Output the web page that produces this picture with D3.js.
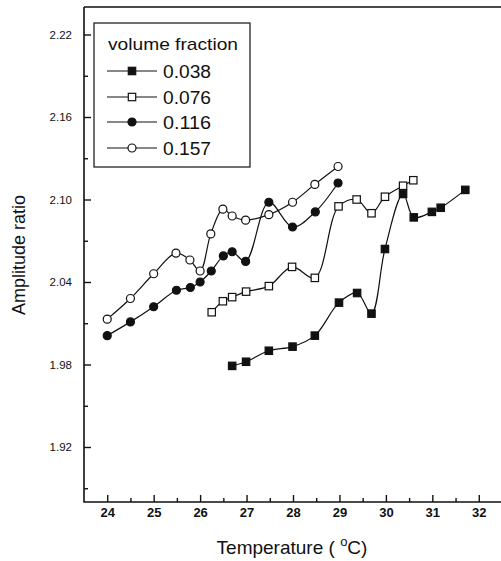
<!DOCTYPE html>
<html>
<head>
<meta charset="utf-8">
<script src="https://cdn.jsdelivr.net/npm/d3@7"></script>
<style>
  body { margin: 0; background: #fff; }
  text { font-family: "Liberation Sans", Arial, sans-serif; fill: #111; }
</style>
</head>
<body>
<div id="graphe"></div>
<script>
// données
var x038 = [26.69, 26.99, 27.48, 27.99, 28.47, 28.99, 29.38, 29.69, 29.98, 30.37, 30.6, 30.99, 31.18, 31.71];
var y038 = [1.979, 1.982, 1.990, 1.993, 2.001, 2.025, 2.032, 2.017, 2.064, 2.104, 2.087, 2.091, 2.094, 2.107];

var x076 = [26.25, 26.49, 26.69, 26.99, 27.48, 27.98, 28.47, 28.98, 29.37, 29.69, 29.98, 30.37, 30.59];
var y076 = [2.018, 2.026, 2.029, 2.033, 2.037, 2.051, 2.043, 2.095, 2.100, 2.090, 2.102, 2.110, 2.114];

var x116 = [24.0, 24.5, 25.0, 25.49, 25.79, 26.0, 26.24, 26.5, 26.69, 26.98, 27.48, 27.99, 28.48, 28.97];
var y116 = [2.001, 2.011, 2.022, 2.034, 2.036, 2.040, 2.048, 2.059, 2.062, 2.055, 2.098, 2.080, 2.091, 2.112];

var x157 = [24.0, 24.5, 25.0, 25.48, 25.78, 26.0, 26.23, 26.49, 26.69, 26.98, 27.48, 27.99, 28.47, 28.97];
var y157 = [2.013, 2.028, 2.046, 2.061, 2.056, 2.048, 2.075, 2.093, 2.088, 2.085, 2.089, 2.098, 2.111, 2.124];

var nomsSeries = ["0.038", "0.076", "0.116", "0.157"];
var ticksX = [24, 25, 26, 27, 28, 29, 30, 31, 32];
var ticksY = [1.92, 1.98, 2.04, 2.10, 2.16, 2.22];

//----------------------------------------------------------------
//  svg
//----------------------------------------------------------------
var largeurSvg = 501, hauteurSvg = 561;
var svg = d3.select("#graphe").append("svg")
    .attr("width", largeurSvg)
    .attr("height", hauteurSvg);

var x = d3.scaleLinear().domain([23.5, 32.5]).range([84, 502]);
var y = d3.scaleLinear().domain([1.88, 2.24]).range([502, 7]);

// cadre
svg.append("path")
    .attr("d", "M" + x(23.5) + "," + y(2.24) + "H" + x(32.5) + "M" + x(23.5) + "," + y(2.24) + "V" + y(1.88) + "H" + x(32.5))
    .attr("fill", "none").attr("stroke", "#111").attr("stroke-width", 1.6);

// axes (graduations vers l'intérieur)
var axeX = svg.append("g")
    .attr("transform", "translate(0," + y(1.88) + ")")
    .call(d3.axisBottom(x).tickValues(ticksX).tickSize(-7).tickPadding(6).tickFormat(d3.format("d")));
var axeXmin = svg.append("g")
    .attr("transform", "translate(0," + y(1.88) + ")")
    .call(d3.axisBottom(x).tickValues(d3.range(24.5, 32.5, 1)).tickSize(-4).tickFormat(""));

var axeY = svg.append("g")
    .attr("transform", "translate(" + x(23.5) + ",0)")
    .call(d3.axisLeft(y).tickValues(ticksY).tickSize(-7).tickPadding(12).tickFormat(d3.format(".2f")));
var axeYmin = svg.append("g")
    .attr("transform", "translate(" + x(23.5) + ",0)")
    .call(d3.axisLeft(y).tickValues([1.89, 1.95, 2.01, 2.07, 2.13, 2.19]).tickSize(-4).tickFormat(""));

[axeX, axeXmin, axeY, axeYmin].forEach(function(a) {
    a.select(".domain").remove();
    a.selectAll(".tick line").attr("stroke", "#111").attr("stroke-width", 1.4);
});
axeX.selectAll("text").attr("font-size", 13).style("font-weight", "bold").attr("fill", "#222");
axeY.selectAll("text").attr("font-size", 11.5).attr("fill", "#222");

// titres des axes
svg.append("text")
    .attr("transform", "translate(25,255) rotate(-90)")
    .attr("text-anchor", "middle")
    .attr("font-size", 18)
    .text("Amplitude ratio");

var titreX = svg.append("text")
    .attr("x", 292).attr("y", 554)
    .attr("text-anchor", "middle")
    .attr("font-size", 19);
titreX.append("tspan").text("Temperature ( ");
titreX.append("tspan").attr("dy", -8).attr("font-size", 13).text("o");
titreX.append("tspan").attr("dy", 8).text("C)");

//----------------------------------------------------------------
//  séries
//----------------------------------------------------------------
var series = [
    {nom: nomsSeries[0], xs: x038, ys: y038, forme: "carre", plein: true},
    {nom: nomsSeries[1], xs: x076, ys: y076, forme: "carre", plein: false},
    {nom: nomsSeries[2], xs: x116, ys: y116, forme: "rond", plein: true},
    {nom: nomsSeries[3], xs: x157, ys: y157, forme: "rond", plein: false}
];

var ligne = d3.line()
    .x(function(d) { return x(d[0]); })
    .y(function(d) { return y(d[1]); })
    .curve(d3.curveCatmullRom.alpha(0.5));

function dessineMarque(g, forme, plein, cx, cy) {
    if (forme == "carre") {
        g.append("rect")
            .attr("x", cx - 3.7).attr("y", cy - 3.7)
            .attr("width", 7.4).attr("height", 7.4)
            .attr("fill", plein ? "#111" : "#fff")
            .attr("stroke", "#111").attr("stroke-width", 1.2);
    } else {
        g.append("circle")
            .attr("cx", cx).attr("cy", cy).attr("r", 4)
            .attr("fill", plein ? "#111" : "#fff")
            .attr("stroke", "#111").attr("stroke-width", 1.2);
    }
}

for (var i = 0; i < series.length; i++) {
    var s = series[i];
    var pts = s.xs.map(function(v, k) { return [v, s.ys[k]]; });
    var g = svg.append("g");
    g.append("path")
        .attr("d", ligne(pts))
        .attr("fill", "none")
        .attr("stroke", "#111")
        .attr("stroke-width", 1.2);
    pts.forEach(function(p) {
        dessineMarque(g, s.forme, s.plein, x(p[0]), y(p[1]));
    });
}

//----------------------------------------------------------------
//  légende
//----------------------------------------------------------------
var leg = svg.append("g");
leg.append("rect")
    .attr("x", 94).attr("y", 23)
    .attr("width", 156).attr("height", 144)
    .attr("fill", "#fff").attr("stroke", "#111").attr("stroke-width", 1.2);
leg.append("text")
    .attr("x", 108).attr("y", 50)
    .attr("font-size", 17)
    .attr("textLength", 130)
    .attr("lengthAdjust", "spacingAndGlyphs")
    .text("volume fraction");

var yLeg = [71, 97, 122, 148];
for (var j = 0; j < series.length; j++) {
    leg.append("line")
        .attr("x1", 107).attr("x2", 157)
        .attr("y1", yLeg[j]).attr("y2", yLeg[j])
        .attr("stroke", "#111").attr("stroke-width", 1.2);
    dessineMarque(leg, series[j].forme, series[j].plein, 132, yLeg[j]);
    leg.append("text")
        .attr("x", 163).attr("y", yLeg[j] + 6.5)
        .attr("font-size", 17.5)
        .attr("textLength", 48)
        .attr("lengthAdjust", "spacingAndGlyphs")
        .text(series[j].nom);
}
</script>
</body>
</html>
